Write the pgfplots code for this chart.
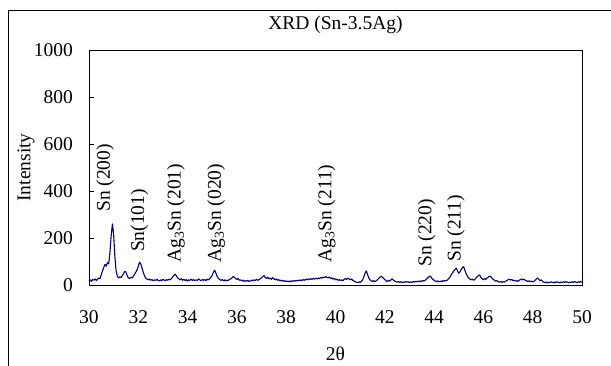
\documentclass[border=0pt]{standalone}
\usepackage{fontspec}
\setmainfont{Liberation Serif}
\usepackage{pgfplots}
\pgfplotsset{compat=1.18}
\usepackage{pgfplotstable}
\definecolor{navy}{RGB}{0,0,128}
\pgfplotstableread{
x y
30.00 18
30.05 22
30.10 15
30.15 24
30.20 20
30.25 26
30.30 19
30.35 25
30.40 30
30.45 28
30.50 45
30.55 60
30.60 75
30.65 88
30.70 80
30.75 95
30.80 90
30.85 140
30.90 210
30.95 260
31.00 215
31.05 120
31.10 60
31.15 38
31.20 30
31.25 35
31.30 32
31.35 40
31.40 48
31.45 58
31.50 55
31.55 40
31.60 30
31.65 28
31.70 33
31.75 30
31.80 38
31.85 45
31.90 55
31.95 65
32.00 80
32.05 97
32.10 90
32.15 72
32.20 55
32.25 40
32.30 30
32.35 25
32.40 22
32.45 26
32.50 20
32.55 23
32.60 18
32.65 22
32.70 19
32.75 24
32.80 20
32.85 17
32.90 22
32.95 19
33.00 24
33.05 21
33.10 18
33.15 23
33.20 20
33.25 25
33.30 22
33.35 28
33.40 35
33.45 42
33.50 46
33.55 38
33.60 30
33.65 26
33.70 22
33.75 27
33.80 20
33.85 24
33.90 19
33.95 23
34.00 17
34.05 22
34.10 20
34.15 25
34.20 19
34.25 23
34.30 18
34.35 22
34.40 20
34.45 26
34.50 21
34.55 18
34.60 24
34.65 20
34.70 23
34.75 19
34.80 25
34.85 22
34.90 28
34.95 34
35.00 42
35.05 55
35.10 63
35.15 50
35.20 36
35.25 28
35.30 24
35.35 20
35.40 23
35.45 18
35.50 22
35.55 17
35.60 21
35.65 19
35.70 24
35.75 26
35.80 30
35.85 36
35.90 33
35.95 27
36.00 24
36.05 28
36.10 20
36.15 22
36.20 17
36.25 21
36.30 15
36.35 19
36.40 16
36.45 20
36.50 15
36.55 18
36.60 21
36.65 17
36.70 22
36.75 19
36.80 24
36.85 20
36.90 23
36.95 27
37.00 30
37.05 36
37.10 40
37.15 32
37.20 28
37.25 33
37.30 26
37.35 30
37.40 24
37.45 31
37.50 27
37.55 22
37.60 26
37.65 20
37.70 23
37.75 17
37.80 21
37.85 16
37.90 19
37.95 15
38.00 18
38.05 14
38.10 17
38.15 13
38.20 18
38.25 15
38.30 19
38.35 16
38.40 20
38.45 17
38.50 21
38.55 18
38.60 22
38.65 19
38.70 23
38.75 20
38.80 25
38.85 22
38.90 26
38.95 23
39.00 27
39.05 24
39.10 28
39.15 25
39.20 29
39.25 26
39.30 30
39.35 27
39.40 32
39.45 29
39.50 34
39.55 31
39.60 36
39.65 33
39.70 30
39.75 34
39.80 28
39.85 31
39.90 25
39.95 28
40.00 22
40.05 25
40.10 20
40.15 23
40.20 19
40.25 22
40.30 18
40.35 24
40.40 27
40.45 24
40.50 29
40.55 25
40.60 22
40.65 26
40.70 20
40.75 17
40.80 14
40.85 12
40.90 10
40.95 13
41.00 11
41.05 15
41.10 22
41.15 35
41.20 50
41.25 60
41.30 45
41.35 30
41.40 22
41.45 18
41.50 15
41.55 19
41.60 14
41.65 18
41.70 22
41.75 28
41.80 33
41.85 37
41.90 34
41.95 28
42.00 24
42.05 18
42.10 15
42.15 20
42.20 16
42.25 22
42.30 26
42.35 21
42.40 17
42.45 14
42.50 12
42.55 15
42.60 11
42.65 14
42.70 10
42.75 13
42.80 11
42.85 15
42.90 12
42.95 14
43.00 10
43.05 13
43.10 11
43.15 15
43.20 12
43.25 16
43.30 13
43.35 17
43.40 14
43.45 18
43.50 15
43.55 19
43.60 17
43.65 22
43.70 26
43.75 32
43.80 36
43.85 38
43.90 30
43.95 25
44.00 20
44.05 17
44.10 14
44.15 18
44.20 13
44.25 16
44.30 14
44.35 19
44.40 16
44.45 20
44.50 18
44.55 22
44.60 28
44.65 35
44.70 45
44.75 52
44.80 60
44.85 66
44.90 72
44.95 60
45.00 50
45.05 56
45.10 66
45.15 74
45.20 78
45.25 62
45.30 48
45.35 38
45.40 30
45.45 26
45.50 22
45.55 25
45.60 20
45.65 24
45.70 30
45.75 36
45.80 40
45.85 43
45.90 32
45.95 26
46.00 22
46.05 28
46.10 24
46.15 30
46.20 34
46.25 38
46.30 36
46.35 28
46.40 24
46.45 20
46.50 16
46.55 19
46.60 14
46.65 12
46.70 15
46.75 11
46.80 14
46.85 12
46.90 16
46.95 19
47.00 22
47.05 25
47.10 21
47.15 24
47.20 18
47.25 21
47.30 16
47.35 19
47.40 15
47.45 20
47.50 23
47.55 26
47.60 22
47.65 25
47.70 20
47.75 18
47.80 15
47.85 18
47.90 14
47.95 17
48.00 13
48.05 16
48.10 20
48.15 26
48.20 30
48.25 24
48.30 18
48.35 22
48.40 15
48.45 12
48.50 10
48.55 13
48.60 9
48.65 12
48.70 10
48.75 14
48.80 11
48.85 9
48.90 13
48.95 10
49.00 14
49.05 11
49.10 9
49.15 13
49.20 10
49.25 14
49.30 11
49.35 15
49.40 12
49.45 9
49.50 13
49.55 10
49.60 14
49.65 11
49.70 15
49.75 12
49.80 10
49.85 14
49.90 11
49.95 15
50.00 12
}\xrd
\begin{document}
\begin{tikzpicture}[font=\fontsize{19.5}{23}\selectfont]
\begin{axis}[
  at={(0pt,0pt)}, anchor=south west,
  scale only axis, width=493pt, height=235pt,
  xmin=30, xmax=50, ymin=0, ymax=1000,
  xtick={30,32,...,50}, ytick={0,200,...,1000},
  xtick pos=bottom, ytick pos=left,
  xtick style={draw=none},
  ytick style={black, line width=0.6pt},
  tick align=inside, major tick length=5pt,
  axis line style={black, line width=0.8pt},
  /pgf/number format/assume math mode=true,
  /pgf/number format/1000 sep={},
  yticklabel style={inner sep=0pt, anchor=east, xshift=-16pt},
  xticklabel style={inner sep=0pt, anchor=north, yshift=-25pt},
  title={XRD (Sn-3.5Ag)},
  title style={at={(axis description cs:0.5,1.081)}, anchor=center, inner sep=0pt},
  xlabel={2θ},
  xlabel style={at={(axis description cs:0.5,-0.294)}, anchor=center, inner sep=0pt},
  ylabel={Intensity},
  ylabel style={at={(axis description cs:-0.1278,0.5)}, anchor=center, inner sep=0pt},
  clip=false,
]
\addplot[navy, line width=1.1pt, line join=round] table[x=x,y=y] {\xrd};
\begin{scope}[every node/.style={rotate=90, anchor=west, inner sep=0pt}]
\node at (axis cs:30.66,311) {Sn (200)};
\node at (axis cs:32.05,140) {Sn(101)};
\node at (axis cs:33.53,94) {Ag\textsubscript{3}Sn (201)};
\node at (axis cs:35.16,94) {Ag\textsubscript{3}Sn (020)};
\node at (axis cs:39.64,94) {Ag\textsubscript{3}Sn (211)};
\node at (axis cs:43.70,77) {Sn (220)};
\node at (axis cs:44.89,98) {Sn (211)};
\end{scope}
\end{axis}
\draw[black, line width=0.8pt] (-81pt,275pt) rectangle (540pt,-100pt);
\pgfresetboundingbox
\useasboundingbox (-89pt,-80pt) rectangle (522pt,285pt);
\end{tikzpicture}
\end{document}
